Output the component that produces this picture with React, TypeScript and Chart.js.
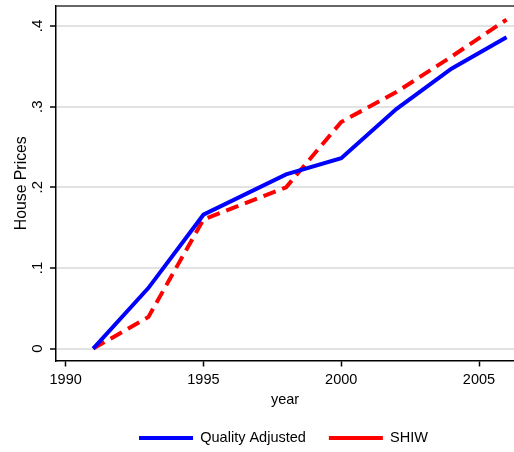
import { useEffect, useRef } from 'react';
import { Chart, registerables } from 'chart.js';

Chart.register(...registerables);

const years = [1991, 1993, 1995, 1998, 2000, 2002, 2004, 2006];
const qualityAdjusted = [0, 0.075, 0.166, 0.216, 0.236, 0.297, 0.347, 0.386];
const shiw = [0, 0.039, 0.160, 0.200, 0.281, 0.318, 0.362, 0.408];
const xTickValues = [1990, 1995, 2000, 2005];
const yTickValues = [0, 0.1, 0.2, 0.3, 0.4];
const yTickLabels = ['0', '.1', '.2', '.3', '.4'];
const seriesNames = ['Quality Adjusted', 'SHIW'];

const FONT = 'Arial, "Liberation Sans", Helvetica, sans-serif';

export default function App() {
  const ref = useRef<HTMLCanvasElement | null>(null);

  useEffect(() => {
    document.body.style.margin = '0';
    document.body.style.overflow = 'hidden';
    const canvas = ref.current;
    if (!canvas) return;

    const frameAndLegendPlugin = {
      id: 'frameAndLegend',
      afterLayout(chart: any) {
        const lg = chart.legend;
        if (lg) {
          lg.left += 26.5;
          lg.right += 26.5;
          lg.top += 3.25;
          lg.bottom += 3.25;
        }
      },
      afterDraw(chart: any) {
        const { ctx, chartArea } = chart;
        ctx.save();
        ctx.strokeStyle = '#333';
        ctx.lineWidth = 1.5;
        ctx.beginPath();
        ctx.moveTo(chartArea.left, chartArea.top);
        ctx.lineTo(chartArea.right + 2, chartArea.top);
        ctx.stroke();
        ctx.restore();
      },
    };

    const zeroPad = (s: any) => {
      s.paddingTop = 0;
      s.paddingBottom = 0;
      s.paddingLeft = 0;
      s.paddingRight = 0;
    };

    const chart = new Chart(canvas, {
      type: 'line',
      data: {
        datasets: [
          {
            label: seriesNames[0],
            data: years.map((y, i) => ({ x: y, y: qualityAdjusted[i] })),
            borderColor: '#0000ff',
            backgroundColor: '#0000ff',
            borderWidth: 4,
            pointRadius: 0,
            tension: 0,
            fill: false,
          },
          {
            label: seriesNames[1],
            data: years.map((y, i) => ({ x: y, y: shiw[i] })),
            borderColor: '#ff0000',
            backgroundColor: '#ff0000',
            borderWidth: 4,
            borderDash: [13, 7],
            pointRadius: 0,
            tension: 0,
            fill: false,
          },
        ],
      },
      options: {
        responsive: false,
        animation: false,
        events: [],
        layout: { padding: { top: 6, left: 0, right: 0, bottom: 0 } },
        scales: {
          x: {
            type: 'linear',
            min: 1989.65,
            max: 2006.27,
            afterBuildTicks: (s: any) => {
              s.ticks = xTickValues.map((v) => ({ value: v }));
            },
            afterFit: (s: any) => {
              s.height = 44;
              zeroPad(s);
            },
            ticks: {
              padding: 4.5,
              color: '#000',
              font: { family: FONT, size: 14.5 },
              callback: (v: any) => String(v),
              maxRotation: 0,
              autoSkip: false,
            },
            grid: {
              drawOnChartArea: false,
              drawTicks: true,
              tickLength: 6,
              tickColor: '#000',
              tickWidth: 1.5,
            },
            border: { display: true, color: '#000', width: 1.5 },
            title: {
              display: true,
              text: 'year',
              color: '#000',
              font: { family: FONT, size: 14.5 },
              padding: { top: 0, bottom: -4 },
            },
          },
          y: {
            type: 'linear',
            min: -0.0148,
            max: 0.4248,
            afterBuildTicks: (s: any) => {
              s.ticks = yTickValues.map((v) => ({ value: v }));
            },
            afterFit: (s: any) => {
              s.width = 56;
              zeroPad(s);
            },
            ticks: {
              padding: 6,
              color: '#000',
              font: { family: FONT, size: 15 },
              minRotation: 90,
              maxRotation: 90,
              crossAlign: 'center',
              autoSkip: false,
              callback: (v: any) => {
                const i = yTickValues.findIndex((t) => Math.abs(t - v) < 1e-9);
                return i >= 0 ? yTickLabels[i] : '';
              },
            },
            grid: {
              color: '#e2e2e2',
              lineWidth: 2,
              drawTicks: true,
              tickLength: 6,
              tickColor: '#000',
              tickWidth: 1.5,
            },
            border: { display: true, color: '#000', width: 1.5 },
            title: {
              display: true,
              text: 'House Prices',
              color: '#000',
              font: { family: FONT, size: 15.8 },
              padding: { top: 12, bottom: 0 },
            },
          },
        },
        plugins: {
          legend: {
            display: true,
            position: 'bottom',
            labels: {
              usePointStyle: true,
              pointStyle: 'line',
              pointStyleWidth: 54,
              boxHeight: 6,
              padding: 23,
              color: '#000',
              font: { family: FONT, size: 14.5 },
            },
          },
          tooltip: { enabled: false },
        },
      },
      plugins: [frameAndLegendPlugin],
    } as any);

    return () => chart.destroy();
  }, []);

  return (
    <div style={{ width: 514, height: 452 }}>
      <canvas ref={ref} width={514} height={452} style={{ display: 'block' }} />
    </div>
  );
}
